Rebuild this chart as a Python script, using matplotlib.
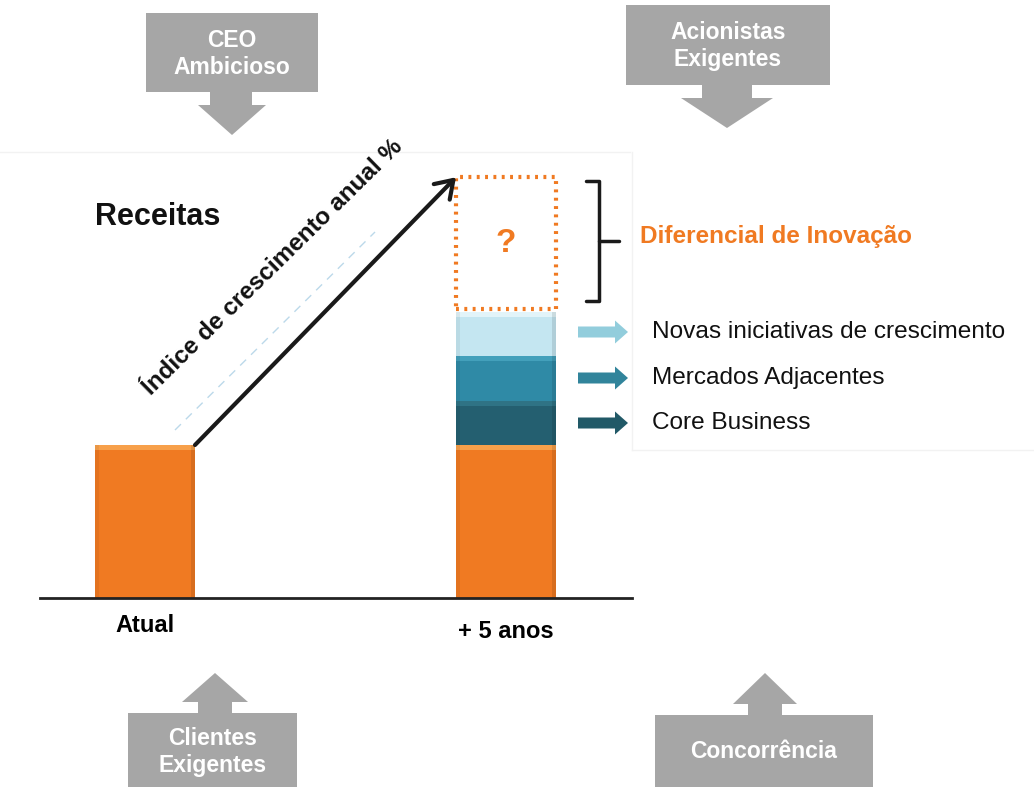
import matplotlib.pyplot as plt
from matplotlib.patches import Polygon, Rectangle, FancyArrowPatch, FancyArrow

plt.rcParams['font.family'] = ['Liberation Sans', 'DejaVu Sans']

# revenue today vs. in five years (index, today = 100)
categories = ["Atual", "+ 5 anos"]
base_revenue = [100, 100]
growth_labels = ["Core Business", "Mercados Adjacentes", "Novas iniciativas de crescimento"]
growth_values = [29, 29, 29]
innovation_gap = 86
gap_label = "Diferencial de Inovação"

orange = "#f07a22"
orange_hi = "#f7a04a"
growth_colors = ["#245f70", "#2f8aa6", "#c4e6f1"]
growth_hi = ["#2f7385", "#43a0bb", "#e2f4f9"]
arrow_colors = ["#215967", "#31849b", "#92cddc"]
gray = "#a6a6a6"

W, H = 1034, 787
fig = plt.figure(figsize=(W / 100, H / 100), dpi=100)

# chart axes: value 0 sits on the baseline, 1.53 px per unit
px_per_unit = 1.53
baseline_px = 598
ax = fig.add_axes([0, 0, 1, 1])
ax.set_ylim(-(H - baseline_px) / px_per_unit, baseline_px / px_per_unit)
x_px_per_cat = 361
x0_px = 145
ax.set_xlim(-x0_px / x_px_per_cat, (W - x0_px) / x_px_per_cat)
ax.axis("off")

# overlay axes in pixel units for the surrounding diagram
ov = fig.add_axes([0, 0, 1, 1], zorder=3)
ov.set_xlim(0, W)
ov.set_ylim(H, 0)
ov.axis("off")
ov.patch.set_alpha(0)

bw = 100 / x_px_per_cat
hi_h = 5 / px_per_unit
edge_w = bw * 0.04
xs = list(range(len(categories)))


def bevel_bar(x, bottom, height, color, hi):
    ax.bar(x, height, bw, bottom=bottom, color=color, edgecolor="none", zorder=2)
    ax.bar(x, hi_h, bw, bottom=bottom + height - hi_h, color=hi, edgecolor="none", zorder=2.1)
    ax.bar(x - bw / 2 + edge_w / 2, height, edge_w, bottom=bottom, color="black",
           alpha=0.05, zorder=2.2)
    ax.bar(x + bw / 2 - edge_w / 2, height, edge_w, bottom=bottom, color="black",
           alpha=0.1, zorder=2.2)


for x, v in zip(xs, base_revenue):
    bevel_bar(x, 0, v, orange, orange_hi)

bottom = base_revenue[1]
for v, c, h in zip(growth_values, growth_colors, growth_hi):
    bevel_bar(xs[1], bottom, v, c, h)
    bottom += v

# innovation gap drawn as a dotted outline above the stack
gap_bottom = bottom + 2
ax.add_patch(Rectangle((xs[1] - bw / 2, gap_bottom), bw, innovation_gap, fill=False,
                       edgecolor=orange, lw=3, linestyle=(0, (0.7, 1.3)), zorder=3))
total = gap_bottom + innovation_gap
ax.text(xs[1], gap_bottom + innovation_gap * 0.5, "?", color=orange, fontsize=24,
        fontweight="bold", ha="center", va="center", zorder=4)

# baseline
ax.plot([-0.29, 1.35], [0, 0], color="#222222", lw=2, zorder=3)

# category labels
ax.text(xs[0], -18, categories[0], fontsize=17, fontweight="bold", ha="center", va="center")
ax.text(xs[1], -22, categories[1], fontsize=17, fontweight="bold", ha="center", va="center")

# growth arrow from today's revenue to the target
ax.add_patch(FancyArrowPatch((xs[0] + bw / 2, base_revenue[0]), (xs[1] - bw / 2, total),
                             arrowstyle="->,head_length=12,head_width=8", lw=3,
                             color="#1a1a1a", shrinkA=0, shrinkB=0, zorder=4))
ov.plot([175, 375], [430, 232], color="#bcd9ea", lw=1, linestyle=(0, (6, 5)), zorder=1)
ov.text(273, 267, "Índice de crescimento anual %", fontsize=17.5, fontweight="bold",
        rotation=44.5, rotation_mode="anchor", ha="center", va="center", color="#111111")

ov.text(95, 217, "Receitas", fontsize=22, fontweight="bold", ha="left", va="center",
        color="#111111")

# faint panel edges
ov.plot([0, 630], [152, 152], color="#f2f2f2", lw=1, zorder=0)
ov.plot([632, 632], [152, 450], color="#f2f2f2", lw=1, zorder=0)
ov.plot([632, 1034], [450, 450], color="#f2f2f2", lw=1, zorder=0)

# bracket for the innovation gap
ov.plot([586, 599, 599, 586], [181, 181, 301, 301], color="#1a1a1a", lw=2.5,
        solid_joinstyle="round", solid_capstyle="round")
ov.plot([599, 619], [241, 241], color="#1a1a1a", lw=2.5, solid_capstyle="round")
ov.text(640, 237, gap_label, fontsize=17.5, fontweight="bold", color=orange,
        ha="left", va="center")

# legend arrows and labels
legend_y = [423, 378, 332]
for y, c, lab in zip(legend_y, arrow_colors, growth_labels):
    ov.add_patch(FancyArrow(578, y, 50, 0, width=11, head_width=23, head_length=13,
                            length_includes_head=True, color=c, lw=0))
    ov.text(652, y, lab, fontsize=17.6, ha="left", va="center", color="#111111")


def pressure_box(x0, x1, y0, y1, stem, tri, tip, down=True):
    sx0, sx1 = stem
    tx0, tx1 = tri
    cx = (tx0 + tx1) / 2
    if down:
        sy = y1 + 13
        pts = [(x0, y0), (x1, y0), (x1, y1), (sx1, y1), (sx1, sy), (tx1, sy),
               (cx, tip), (tx0, sy), (sx0, sy), (sx0, y1), (x0, y1)]
    else:
        sy = y0 - 11
        pts = [(x0, y1), (x1, y1), (x1, y0), (sx1, y0), (sx1, sy), (tx1, sy),
               (cx, tip), (tx0, sy), (sx0, sy), (sx0, y0), (x0, y0)]
    ov.add_patch(Polygon(pts, closed=True, color=gray, lw=0))


box_font = dict(fontsize=16.5, fontweight="bold", color="white", ha="center",
                va="center", linespacing=1.2)

pressure_box(146, 318, 13, 92, (210, 252), (198, 266), 135)
ov.text(232, 54, "CEO\nAmbicioso", **box_font)

pressure_box(626, 830, 5, 85, (702, 752), (681, 773), 128)
ov.text(728, 46, "Acionistas\nExigentes", **box_font)

pressure_box(128, 297, 713, 790, (198, 232), (182, 248), 673, down=False)
ov.text(213, 752, "Clientes\nExigentes", **box_font)

pressure_box(655, 873, 715, 790, (748, 782), (733, 797), 673, down=False)
ov.text(764, 752, "Concorrência", **box_font)

fig.savefig("out.png", dpi=100)
